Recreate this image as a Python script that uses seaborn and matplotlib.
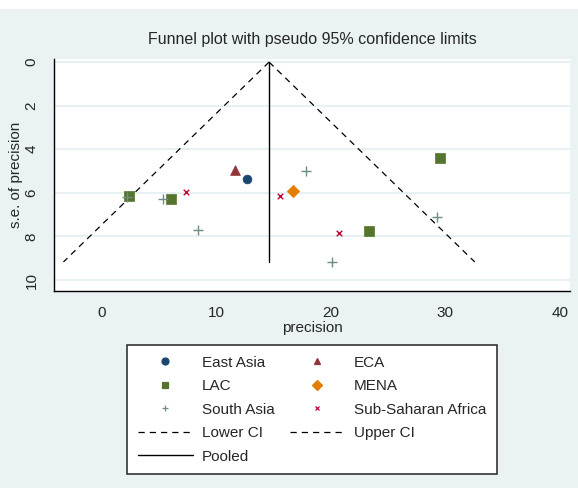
import numpy as np
import pandas as pd
import matplotlib
matplotlib.use("Agg")
import matplotlib.pyplot as plt
from matplotlib.lines import Line2D
from matplotlib.patches import Rectangle
import seaborn as sns

# ---- data ----
regions = ["East Asia", "ECA", "LAC", "LAC", "LAC", "LAC", "MENA",
           "South Asia", "South Asia", "South Asia", "South Asia", "South Asia", "South Asia",
           "Sub-Saharan Africa", "Sub-Saharan Africa", "Sub-Saharan Africa"]
precision = [12.66, 11.65, 2.39, 6.03, 29.55, 23.3, 16.65,
             5.36, 8.38, 17.84, 29.28, 20.1, 2.2,
             7.31, 15.55, 20.73]
se_precision = [5.35, 4.95, 6.15, 6.3, 4.40, 7.75, 5.92,
                6.30, 7.71, 4.98, 7.13, 9.16, 6.2,
                5.98, 6.15, 7.84]
pooled = 14.6
se_max = 9.17

legend_order = ["East Asia", "ECA", "LAC", "MENA", "South Asia", "Sub-Saharan Africa"]
colors = {"East Asia": "#1a476f", "ECA": "#90353b", "LAC": "#55752f",
          "MENA": "#e37e00", "South Asia": "#6e8e84", "Sub-Saharan Africa": "#c10534"}
markers = {"East Asia": "o", "ECA": "^", "LAC": "s", "MENA": "D",
           "South Asia": "+", "Sub-Saharan Africa": "x"}
sizes = {"East Asia": 40, "ECA": 50, "LAC": 55, "MENA": 40,
         "South Asia": 55, "Sub-Saharan Africa": 16}

df = pd.DataFrame({"region": regions, "precision": precision, "se": se_precision})

sns.set_style("white")
plt.rcParams["font.family"] = ["Liberation Sans Narrow", "Liberation Sans", "DejaVu Sans"]

bg = "#eaf2f3"
fig = plt.figure(figsize=(5.78, 4.88), dpi=100, facecolor=bg)
fig.patches.append(Rectangle((0, 1 - 9 / 488), 1, 9 / 488, transform=fig.transFigure,
                             facecolor="white", edgecolor="none", zorder=0))
ax = fig.add_axes([54 / 578, 1 - 290.7 / 488, (570 - 54) / 578, (290.7 - 59) / 488])
ax.set_facecolor("white")

# gridlines
for yv in [0, 2, 4, 6, 8, 10]:
    ax.axhline(yv, color="#e3eef0", lw=1.2, zorder=0)

# funnel lines
se_line = np.array([0.0, se_max])
lines_df = pd.DataFrame({
    "se": np.concatenate([se_line, se_line]),
    "x": np.concatenate([pooled - 1.96 * se_line, pooled + 1.96 * se_line]),
    "which": ["Lower CI"] * 2 + ["Upper CI"] * 2,
})
for w in ["Lower CI", "Upper CI"]:
    sub = lines_df[lines_df["which"] == w]
    ax.plot(sub["x"], sub["se"], color="black", lw=0.9, ls=(0, (5, 4)), zorder=2)
ax.plot([pooled, pooled], [0, se_max], color="black", lw=1.0, zorder=2)

for r in legend_order:
    sub = df[df["region"] == r]
    kw = dict(color=colors[r], marker=markers[r], s=sizes[r], zorder=3, ax=ax, legend=False)
    if markers[r] in ["+", "x"]:
        kw["linewidth"] = 1.0
    else:
        kw["edgecolor"] = colors[r]
        kw["linewidth"] = 0.5
    sns.scatterplot(data=sub, x="precision", y="se", **kw)

ax.set_xlim(-4.2, 40.9)
ax.set_ylim(10.49, -0.14)
ax.set_xticks([0, 10, 20, 30, 40])
ax.set_yticks([0, 2, 4, 6, 8, 10])
ax.tick_params(axis="both", direction="out", length=7, width=1, color="black",
               labelsize=11, pad=4)
for lab in ax.get_yticklabels():
    lab.set_rotation(90)
    lab.set_va("center")
ax.set_xlabel("precision", fontsize=11, labelpad=1)
ax.set_ylabel("s.e. of precision", fontsize=11, labelpad=1)
ax.set_title("Funnel plot with pseudo 95% confidence limits", fontsize=11.5, pad=11)
for s in ["top", "right"]:
    ax.spines[s].set_visible(False)
for s in ["left", "bottom"]:
    ax.spines[s].set_color("black")
    ax.spines[s].set_linewidth(1.0)

# legend
def mk(r):
    return Line2D([], [], ls="none", marker=markers[r], color=colors[r],
                  markersize=5 if markers[r] not in ["x"] else 3.5, markeredgewidth=0.9)
h_lower = Line2D([], [], color="black", lw=0.9, ls=(0, (5, 4)))
h_upper = Line2D([], [], color="black", lw=0.9, ls=(0, (5, 4)))
h_pooled = Line2D([], [], color="black", lw=1.0)
handles = [mk("East Asia"), mk("LAC"), mk("South Asia"), h_lower, h_pooled,
           mk("ECA"), mk("MENA"), mk("Sub-Saharan Africa"), h_upper]
labels = ["East Asia", "LAC", "South Asia", "Lower CI", "Pooled",
          "ECA", "MENA", "Sub-Saharan Africa", "Upper CI"]
leg = fig.legend(handles, labels, ncol=2, loc="upper left",
                 bbox_to_anchor=(127 / 578, 1 - 345 / 488, 370 / 578, 0.0),
                 mode="expand", fontsize=11, frameon=True, fancybox=False,
                 edgecolor="#333333", facecolor="white", framealpha=1,
                 handlelength=3.6, handletextpad=0.6, columnspacing=1.6,
                 labelspacing=0.62, borderpad=0.7, borderaxespad=0)
leg.get_frame().set_linewidth(1.2)

fig.savefig("out.png", dpi=100, facecolor=bg)
